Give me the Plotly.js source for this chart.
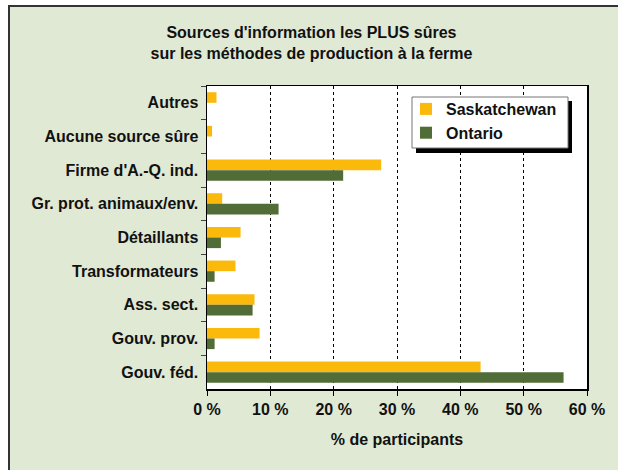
<!DOCTYPE html>
<html>
<head>
<meta charset="utf-8">
<script src="https://cdn.plot.ly/plotly-3.0.1.min.js"></script>
<style>
  html, body { margin: 0; padding: 0; background: #ffffff; overflow: hidden; }
  #frame { position: absolute; left: 8px; top: 5px; width: 700px; height: 600px;
           background: #E0E9D4; border-left: 2px solid #333; border-top: 2px solid #333; }
  #chart { position: absolute; left: 0; top: 0; width: 618px; height: 470px; }
</style>
</head>
<body>
<div id="frame"></div>
<div id="chart"></div>
<script>
const categories = ["Autres", "Aucune source sûre", "Firme d'A.-Q. ind.", "Gr. prot. animaux/env.",
                    "Détaillants", "Transformateurs", "Ass. sect.", "Gouv. prov.", "Gouv. féd."];
const saskatchewan = [1.5, 0.8, 27.5, 2.4, 5.3, 4.5, 7.5, 8.3, 43.2];
const ontario      = [0.0, 0.0, 21.5, 11.3, 2.2, 1.2, 7.2, 1.2, 56.3];
const xTickVals = [0, 10, 20, 30, 40, 50, 60];
const xTickText = ["0 %", "10 %", "20 %", "30 %", "40 %", "50 %", "60 %"];

const FONT = "Liberation Sans, Arial, sans-serif";
const FS = 16;
const boldFont = { family: FONT, size: FS, color: "#111", weight: "bold" };

const data = [
  { type: "bar", orientation: "h", name: "Saskatchewan", y: categories, x: saskatchewan,
    marker: { color: "#FBB90C", line: { width: 0 } }, hoverinfo: "x+name" },
  { type: "bar", orientation: "h", name: "Ontario", y: categories, x: ontario,
    marker: { color: "#526C37", line: { width: 0 } }, hoverinfo: "x+name" }
];

// plot area in pixels: x 207..587, y 86..389
const px = v => (v - 207) / 380;
const py = v => (389 - v) / 303;

const layout = {
  width: 618, height: 470,
  margin: { l: 207, r: 31, t: 86, b: 81 },
  paper_bgcolor: "rgba(0,0,0,0)",
  plot_bgcolor: "#ffffff",
  barmode: "group", bargap: 0.37, bargroupgap: 0,
  font: boldFont,
  title: {
    text: "Sources d'information les PLUS sûres<br>sur les méthodes de production à la ferme",
    font: boldFont,
    xref: "container", x: 0.504, yref: "container", y: 0.919, yanchor: "middle"
  },
  xaxis: {
    range: [0, 60], tickvals: xTickVals, ticktext: xTickText,
    showgrid: true, gridcolor: "#000", gridwidth: 1, griddash: "dot",
    zeroline: false, showline: true, linecolor: "#000", linewidth: 1.5, mirror: true,
    ticks: "outside", ticklen: 5, tickcolor: "#000", tickwidth: 1,
    tickfont: boldFont,
    title: { text: "% de participants", standoff: 17, font: boldFont },
    fixedrange: true
  },
  yaxis: {
    type: "category", autorange: "reversed",
    showgrid: false, zeroline: false, showline: true, linecolor: "#000", linewidth: 1.5, mirror: true,
    ticks: "outside", ticklen: 5, tickcolor: "#444", tickson: "boundaries",
    tickfont: boldFont,
    ticklabelstandoff: 4,
    fixedrange: true
  },
  legend: {
    x: px(406), xanchor: "left", y: py(92), yanchor: "top",
    bgcolor: "rgba(0,0,0,0)", borderwidth: 0,
    font: boldFont,
    itemwidth: 30, tracegroupgap: 0
  },
  shapes: [
    { type: "rect", xref: "paper", yref: "paper", layer: "above",
      x0: px(416), x1: px(572), y0: py(153), y1: py(101),
      fillcolor: "#000", line: { width: 0 } },
    { type: "rect", xref: "paper", yref: "paper", layer: "above",
      x0: px(412), x1: px(568), y0: py(148), y1: py(97),
      fillcolor: "#ffffff", line: { color: "#777", width: 1 } }
  ],
  showlegend: true
};

Plotly.newPlot("chart", data, layout, { displayModeBar: false, staticPlot: true });
</script>
</body>
</html>
